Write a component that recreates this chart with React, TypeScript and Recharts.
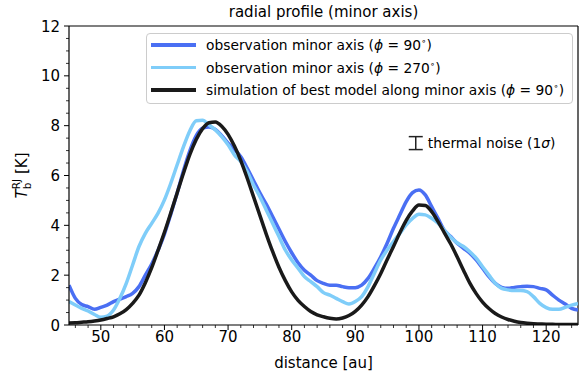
import React from 'react';
import {
  ComposedChart,
  Line,
  Scatter,
  ErrorBar,
  XAxis,
  YAxis,
  ReferenceLine,
} from 'recharts';

// distance grid [au]
const distance = [
  45, 46, 47, 48, 49, 50, 51, 52, 53, 54, 55, 56, 57, 58, 59, 60, 61, 62, 63, 64,
  65, 66, 67, 68, 69, 70, 71, 72, 73, 74, 75, 76, 77, 78, 79, 80, 81, 82, 83, 84,
  85, 86, 87, 88, 89, 90, 91, 92, 93, 94, 95, 96, 97, 98, 99, 100, 101, 102, 103, 104,
  105, 106, 107, 108, 109, 110, 111, 112, 113, 114, 115, 116, 117, 118, 119, 120, 121, 122, 123, 124,
  125,
];

// observation minor axis, phi = 90
const obs90 = [
  1.6, 1.07, 0.82, 0.74, 0.63, 0.71, 0.8, 0.94, 1.04, 1.14, 1.27, 1.54, 2.0, 2.45, 3.0, 3.65, 4.45, 5.3, 6.2, 7.0,
  7.6, 7.9, 7.95, 7.85, 7.6, 7.3, 7.05, 6.75, 6.3, 5.8, 5.3, 4.85, 4.35, 3.85, 3.35, 2.9, 2.5, 2.2, 2.0, 1.78,
  1.67, 1.6, 1.6, 1.54, 1.5, 1.5, 1.6, 1.87, 2.28, 2.74, 3.28, 3.88, 4.42, 4.95, 5.31, 5.42, 5.22, 4.75, 4.28, 3.8,
  3.55, 3.28, 3.08, 2.88, 2.61, 2.28, 1.94, 1.67, 1.51, 1.47, 1.51, 1.54, 1.56, 1.54, 1.47, 1.41, 1.2, 1.0, 0.84, 0.67,
  0.6,
];

// observation minor axis, phi = 270
const obs270 = [
  0.94, 0.8, 0.67, 0.56, 0.42, 0.31, 0.36, 0.6, 1.07, 1.67, 2.41, 3.15, 3.68, 4.08, 4.49, 5.02, 5.69, 6.43, 7.16, 7.8,
  8.2, 8.22, 8.03, 7.83, 7.56, 7.23, 6.83, 6.56, 6.16, 5.62, 5.15, 4.62, 4.08, 3.55, 3.01, 2.61, 2.28, 1.94, 1.74, 1.54,
  1.3, 1.2, 1.07, 0.94, 0.84, 0.94, 1.14, 1.54, 2.08, 2.61, 3.01, 3.35, 3.68, 4.02, 4.28, 4.44, 4.42, 4.28, 4.08, 3.8,
  3.52, 3.3, 3.15, 2.94, 2.68, 2.34, 2.0, 1.67, 1.47, 1.41, 1.38, 1.38, 1.34, 1.14, 0.87, 0.7, 0.63, 0.63, 0.71, 0.8,
  0.87,
];

// simulation of best model, phi = 90
const model90 = [
  0.08, 0.09, 0.11, 0.13, 0.16, 0.2, 0.26, 0.33, 0.45, 0.62, 0.87, 1.2, 1.7, 2.3, 3.0, 3.72, 4.5, 5.3, 6.1, 6.85,
  7.45, 7.88, 8.12, 8.15, 7.98, 7.65, 7.18, 6.6, 5.9, 5.15, 4.4, 3.65, 2.95, 2.32, 1.78, 1.33, 0.99, 0.74, 0.54, 0.41,
  0.33, 0.27, 0.24, 0.28, 0.38, 0.55, 0.8, 1.14, 1.58, 2.07, 2.62, 3.15, 3.7, 4.2, 4.58, 4.82, 4.8, 4.55, 4.15, 3.7,
  3.25, 2.74, 2.2, 1.68, 1.26, 0.92, 0.66, 0.46, 0.32, 0.22, 0.15, 0.1, 0.07, 0.05, 0.04, 0.03, 0.03, 0.02, 0.02, 0.02,
  0.02,
];

const noise = [{ x: 99.5, y: 7.3, err: 0.26 }];

const xTicks = [50, 60, 70, 80, 90, 100, 110, 120];
const xMinorTicks = [46, 48, 52, 54, 56, 58, 62, 64, 66, 68, 72, 74, 76, 78, 82, 84, 86, 88, 92, 94, 96, 98, 102, 104, 106, 108, 112, 114, 116, 118, 122, 124];
const yTicks = [0, 2, 4, 6, 8, 10, 12];
const yMinorTicks = [0.5, 1, 1.5, 2.5, 3, 3.5, 4.5, 5, 5.5, 6.5, 7, 7.5, 8.5, 9, 9.5, 10.5, 11, 11.5];

const series = [
  { name: 'obs90', values: obs90, color: '#4a6ff3', label: ['observation minor axis (', '90', ')'] },
  { name: 'obs270', values: obs270, color: '#7fcdf9', label: ['observation minor axis (', '270', ')'] },
  { name: 'model90', values: model90, color: '#1a1a1a', label: ['simulation of best model along minor axis (', '90', ')'] },
];

const FONT = '"DejaVu Sans", sans-serif';
const toPoints = (vals: number[]) => distance.map((x, i) => ({ x, t: vals[i] }));
const allX = [...xTicks, ...xMinorTicks].sort((a, b) => a - b);
const allY = [...yTicks, ...yMinorTicks].sort((a, b) => a - b);

function XTick(props: any) {
  const { x, y, payload } = props;
  const major = xTicks.includes(payload.value);
  return (
    <g>
      <line x1={x} x2={x} y1={y} y2={y + (major ? 5 : 3)} stroke="#000" strokeWidth={major ? 1 : 0.8} />
      {major && (
        <text x={x} y={y + 17} textAnchor="middle" fontFamily={FONT} fontSize={15} fill="#000">
          {payload.value}
        </text>
      )}
    </g>
  );
}

function YTick(props: any) {
  const { x, y, payload } = props;
  const major = yTicks.includes(payload.value);
  return (
    <g>
      <line x1={x - (major ? 5 : 3)} x2={x} y1={y} y2={y} stroke="#000" strokeWidth={major ? 1 : 0.8} />
      {major && (
        <text x={x - 9} y={y + 5.5} textAnchor="end" fontFamily={FONT} fontSize={15} fill="#000">
          {payload.value}
        </text>
      )}
    </g>
  );
}

function YLabel(props: any) {
  const vb = props.viewBox || { x: 0, y: 26, width: 69, height: 299 };
  const cy = vb.y + vb.height / 2;
  return (
    <text
      transform={`translate(27, ${cy}) rotate(-90)`}
      textAnchor="middle"
      fontFamily={FONT}
      fontSize={15}
      fill="#000"
    >
      <tspan fontStyle="italic">T</tspan>
      <tspan fontSize={10.5} dy={4}>b</tspan>
      <tspan fontSize={10.5} dx={-6.6} dy={-11}>RJ</tspan>
      <tspan dy={7}> [K]</tspan>
    </text>
  );
}

function NoiseMark(props: any) {
  return (
    <text x={props.cx + 12} y={props.cy + 5} fontFamily={FONT} fontSize={13.8} fill="#000">
      thermal noise (1<tspan fontStyle="italic">σ</tspan>)
    </text>
  );
}

export default function App() {
  return (
    <div style={{ position: 'absolute', left: 0, top: 0, width: 579, height: 379, background: '#fff', fontFamily: FONT }}>
      <div style={{ position: 'absolute', left: 69, top: 1, width: 509, textAlign: 'center', fontSize: 15, lineHeight: '22px', color: '#000' }}>
        radial profile (minor axis)
      </div>
      <ComposedChart width={579} height={379} margin={{ top: 26, right: 1, bottom: 0, left: 0 }}>
        <XAxis
          xAxisId="main"
          type="number"
          dataKey="x"
          domain={[45, 125]}
          ticks={allX}
          interval={0}
          height={54}
          tickSize={0}
          tickMargin={0}
          tickLine={false}
          tick={<XTick />}
          axisLine={{ stroke: '#000', strokeWidth: 1.2 }}
          allowDataOverflow
          label={{ value: 'distance [au]', position: 'insideBottom', offset: 11, fill: '#000', fontSize: 15, fontFamily: FONT }}
        />
        <YAxis
          yAxisId="main"
          type="number"
          domain={[0, 12]}
          ticks={allY}
          interval={0}
          width={69}
          tickSize={0}
          tickMargin={0}
          tickLine={false}
          tick={<YTick />}
          axisLine={{ stroke: '#000', strokeWidth: 1.2 }}
          allowDataOverflow
          label={{ content: <YLabel /> }}
        />
        <ReferenceLine xAxisId="main" yAxisId="main" y={12} stroke="#000" strokeWidth={1.2} />
        <ReferenceLine xAxisId="main" yAxisId="main" x={125} stroke="#000" strokeWidth={1.2} />
        {series.map((s) => (
          <Line
            key={s.name}
            xAxisId="main"
            yAxisId="main"
            data={toPoints(s.values)}
            dataKey="t"
            type="monotone"
            stroke={s.color}
            strokeWidth={3.5}
            dot={false}
            activeDot={false}
            isAnimationActive={false}
          />
        ))}
        <Scatter
          xAxisId="main"
          yAxisId="main"
          data={noise}
          dataKey="y"
          shape={<NoiseMark />}
          isAnimationActive={false}
        >
          <ErrorBar dataKey="err" direction="y" width={7} stroke="#222" strokeWidth={1.5} isAnimationActive={false} />
        </Scatter>
      </ComposedChart>
      <div
        style={{
          position: 'absolute',
          left: 146,
          top: 33,
          width: 425,
          height: 69,
          border: '1px solid #cccccc',
          borderRadius: 4,
          background: 'rgba(255,255,255,0.8)',
          fontSize: 13.8,
          color: '#000',
        }}
      >
        {series.map((s, i) => (
          <div key={s.name} style={{ position: 'absolute', left: 0, top: i * 22.5, height: 22, display: 'flex', alignItems: 'center' }}>
            <div style={{ marginLeft: 4, width: 45, height: 3.5, background: s.color }} />
            <div style={{ marginLeft: 10, whiteSpace: 'nowrap' }}>
              {s.label[0]}
              <i>ϕ</i> = {s.label[1]}
              <sup style={{ fontSize: 9, verticalAlign: 'top', position: 'relative', top: -1 }}>∘</sup>
              {s.label[2]}
            </div>
          </div>
        ))}
      </div>
    </div>
  );
}
